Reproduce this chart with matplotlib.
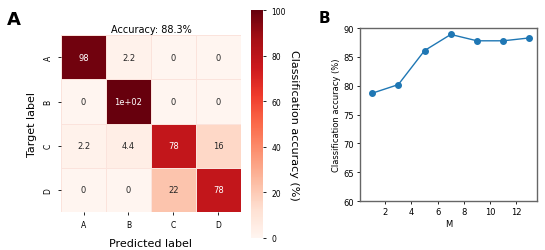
import numpy as np
import matplotlib
matplotlib.use("Agg")
import matplotlib.pyplot as plt
import seaborn as sns

classes = ["A", "B", "C", "D"]
conf = np.array([
    [97.8, 2.2, 0.0, 0.0],
    [0.0, 100.0, 0.0, 0.0],
    [2.2, 4.4, 77.8, 15.6],
    [0.0, 0.0, 22.2, 77.8],
])
accuracy = 88.3

m_vals = [1, 3, 5, 7, 9, 11, 13]
acc_vals = [78.7, 80.2, 86.1, 88.9, 87.8, 87.8, 88.3]

fig = plt.figure(figsize=(5.45, 2.51), dpi=100)

# panel A: confusion matrix
ax1 = fig.add_axes([0.112, 0.151, 0.330, 0.705])
cax = fig.add_axes([0.461, 0.048, 0.022, 0.908])
sns.heatmap(conf, ax=ax1, cbar_ax=cax, cmap="Reds", vmin=0, vmax=100,
            annot=True, annot_kws={"fontsize": 6},
            linewidths=0.5, linecolor="#fbe3dc",
            xticklabels=classes, yticklabels=classes)
ax1.set_title(f"Accuracy: {accuracy}%", fontsize=7, pad=2)
ax1.set_xlabel("Predicted label", fontsize=8, labelpad=6)
ax1.set_ylabel("Target label", fontsize=8, labelpad=5)
ax1.tick_params(labelsize=5.5, length=2.5, width=0.6)
ax1.set_yticklabels(classes, rotation=90, va="center")
cax.tick_params(labelsize=5.5, length=2.5, width=0.6)
cax.set_ylabel("Classification accuracy (%)", fontsize=8, rotation=270, labelpad=9)
for s in cax.spines.values():
    s.set_visible(False)

# panel B: accuracy vs M
ax2 = fig.add_axes([0.661, 0.195, 0.325, 0.689])
ax2.plot(m_vals, acc_vals, "-o", color="#1f77b4", markersize=4, linewidth=1)
ax2.set_ylim(60, 90)
ax2.set_xlim(0.1, 13.6)
ax2.set_xticks([2, 4, 6, 8, 10, 12])
ax2.set_xlabel("M", fontsize=6, labelpad=2)
ax2.set_ylabel("Classification accuracy (%)", fontsize=6, labelpad=2)
ax2.tick_params(labelsize=6, length=2.5, width=0.6, pad=2)
for s in ax2.spines.values():
    s.set_color("#666666")
    s.set_linewidth(1.0)

fig.text(0.012, 0.90, "A", fontsize=13, fontweight="bold")
fig.text(0.585, 0.91, "B", fontsize=11, fontweight="bold")

fig.savefig("out.png", dpi=100)
